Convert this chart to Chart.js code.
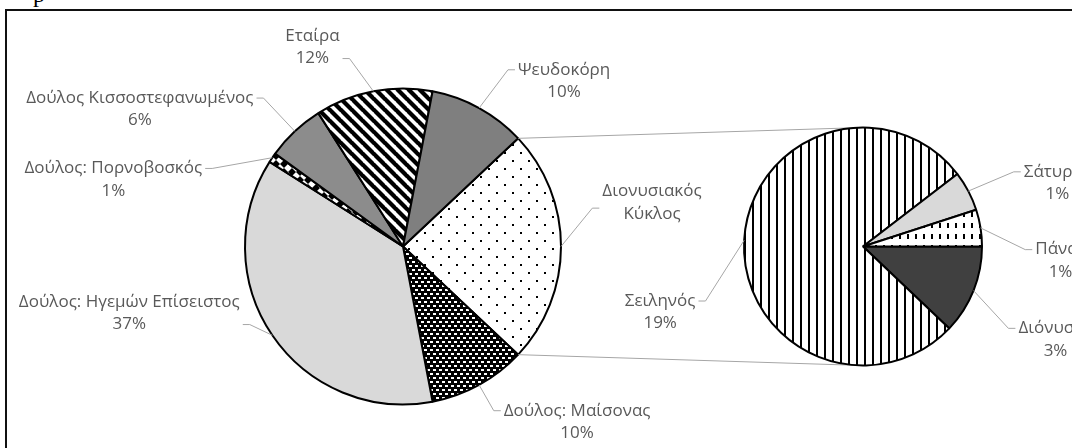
<!DOCTYPE html>
<html>
<head>
<meta charset="utf-8">
<script src="https://cdn.jsdelivr.net/npm/chart.js@4.4.1/dist/chart.umd.min.js"></script>
<style>
  html, body { margin: 0; padding: 0; background: #fff; overflow: hidden; }
  body { width: 1072px; height: 448px; position: relative; }
  #frame { position: absolute; left: 5px; top: 9px; width: 1120px; height: 480px;
           border-left: 2px solid #111; border-top: 2px solid #111; }
  #cut { position: absolute; left: 33px; top: -19px; font: 24px "Liberation Serif"; color: #000; }
  canvas { position: absolute; left: 0; top: 0; }
</style>
</head>
<body>
<div id="cut">p</div>
<div id="frame"></div>
<canvas id="mainPie" width="1072" height="448"></canvas>
<canvas id="subPie" width="1072" height="448"></canvas>
<script>
// pie-of-pie: main pie + the "Διονυσιακός Κύκλος" split into a second pie

const groupLabel = ["Διονυσιακός", "Κύκλος"];
const mainLabels = ["Δούλος: Μαίσονας", "Δούλος: Ηγεμών Επίσειστος", "Δούλος: Πορνοβοσκός",
                    "Δούλος Κισσοστεφανωμένος", "Εταίρα", "Ψευδοκόρη"];
const mainValues = [10, 37, 1, 6, 12, 10];

const subLabels = ["Διόνυσος", "Σειληνός", "Σάτυρος", "Πάνας"];
const subValues = [2.9, 18.6, 1.3, 1.2];

const FONT = '17px "Open Sans", "DejaVu Sans", sans-serif';
const TEXT = "#595959";
const LEADER = "#a6a6a6";
const LINE_H = 22.5;

// label block offsets from the slice's outer-edge midpoint: [dx, dy, attachLine]
const mainLayout = [
  [91, -44, 0.75],
  [98, 37, 0],
  [-143, -22, 1],
  [-159, 22, 0],
  [-155, -22, 0],
  [-61, -44, 1],
  [85, -27, 0]
];
const subLayout = [
  [82, 49, 0],
  [-84, 72, 0],
  [89, -8, 0],
  [80, 33, 0]
];

// ---- fill patterns ----
function tile(w, h, draw) {
  const c = document.createElement("canvas");
  c.width = w; c.height = h;
  const g = c.getContext("2d");
  g.fillStyle = "#fff";
  g.fillRect(0, 0, w, h);
  draw(g);
  return g.createPattern(c, "repeat");
}

const ctx0 = document.getElementById("mainPie").getContext("2d");

const patDots = tile(16, 16, g => {
  g.fillStyle = "#000";
  g.fillRect(0, 0, 2, 2);
  g.fillRect(8, 8, 2, 2);
});
const patBricks = tile(6, 8, g => {
  g.fillStyle = "#000";
  g.fillRect(0, 0, 6, 8);
  g.fillStyle = "#fff";
  g.fillRect(1, 1, 3, 2);
  g.fillRect(4, 5, 3, 2);
  g.fillRect(-2, 5, 3, 2);
});
const patDiamond = tile(8, 8, g => {
  g.fillStyle = "#000";
  g.beginPath();
  g.moveTo(4, 0); g.lineTo(8, 4); g.lineTo(4, 8); g.lineTo(0, 4);
  g.closePath();
  g.fill();
});
const patDiag = tile(11, 11, g => {
  g.strokeStyle = "#000";
  g.lineWidth = 4.2;
  for (const c of [-11, 0, 11]) {
    g.beginPath();
    g.moveTo(-1, c - 1);
    g.lineTo(12, c + 12);
    g.stroke();
  }
});
const patVert = tile(8, 4, g => {
  g.fillStyle = "#000";
  g.fillRect(0, 0, 2, 4);
});
const patDash = tile(8, 11, g => {
  g.fillStyle = "#000";
  g.fillRect(3, 3, 2, 5);
});

const mainFills = [patDots, patBricks, "#d9d9d9", patDiamond, "#8c8c8c", patDiag, "#7f7f7f"];
const subFills = ["#404040", patVert, "#d9d9d9", patDash];

// ---- totals ----
const subTotal = subValues.reduce((a, b) => a + b, 0);
const mainData = [subTotal, ...mainValues];
const grandTotal = mainData.reduce((a, b) => a + b, 0);
const groupDeg = 360 * subTotal / grandTotal;

// ---- label drawing ----
function drawLabels(chart, texts, layout) {
  const ctx = chart.ctx;
  const arcs = chart.getDatasetMeta(0).data;
  ctx.save();
  ctx.font = FONT;
  ctx.textAlign = "center";
  ctx.textBaseline = "middle";
  arcs.forEach((arc, i) => {
    const p = arc.getProps(["x", "y", "startAngle", "endAngle", "outerRadius"], true);
    const mid = (p.startAngle + p.endAngle) / 2;
    const ex = p.x + Math.cos(mid) * p.outerRadius;
    const ey = p.y + Math.sin(mid) * p.outerRadius;
    const [dx, dy, line] = layout[i];
    const lines = texts[i];
    const cx = ex + dx, cy = ey + dy;
    const w = Math.max(...lines.map(t => ctx.measureText(t).width));
    const top = cy - lines.length * LINE_H / 2;

    // leader line
    const ay = top + LINE_H * (line + 0.5);
    const toRight = ex > cx;
    const ax = toRight ? cx + w / 2 + 3 : cx - w / 2 - 3;
    const bx = toRight ? ax + 7 : ax - 7;
    ctx.strokeStyle = LEADER;
    ctx.lineWidth = 1;
    ctx.beginPath();
    ctx.moveTo(ax, ay);
    ctx.lineTo(bx, ay);
    ctx.lineTo(ex, ey);
    ctx.stroke();

    ctx.fillStyle = TEXT;
    lines.forEach((t, k) => ctx.fillText(t, cx, top + LINE_H * (k + 0.5)));
  });
  ctx.restore();
}

const pct = v => Math.round(v / grandTotal * 100) + "%";
const mainTexts = [groupLabel, ...mainLabels.map((l, i) => [l, pct(mainValues[i])])];
const subTexts = subLabels.map((l, i) => [l, pct(subValues[i])]);

const baseOptions = {
  responsive: false,
  devicePixelRatio: 1,
  animation: false,
  events: [],
  plugins: { legend: { display: false }, tooltip: { enabled: false } }
};

const mainChart = new Chart(ctx0, {
  type: "pie",
  data: {
    labels: [groupLabel.join(" "), ...mainLabels],
    datasets: [{
      data: mainData,
      backgroundColor: mainFills,
      borderColor: "#000",
      borderWidth: 2,
      hoverOffset: 0,
      offset: 0
    }]
  },
  options: {
    ...baseOptions,
    rotation: 90 - groupDeg / 2,
    layout: { padding: { left: 244, top: 87, right: 510, bottom: 42 } }
  },
  plugins: [{
    id: "mainLabels",
    afterDatasetsDraw: c => drawLabels(c, mainTexts, mainLayout)
  }]
});

// connector lines from the group slice edges to the top/bottom of the second pie
const connectors = {
  id: "connectors",
  beforeDatasetsDraw(chart) {
    const g = mainChart.getDatasetMeta(0).data[0]
      .getProps(["x", "y", "startAngle", "endAngle", "outerRadius"], true);
    const s = chart.getDatasetMeta(0).data[0].getProps(["x", "y", "outerRadius"], true);
    const ctx = chart.ctx;
    ctx.save();
    ctx.strokeStyle = LEADER;
    ctx.lineWidth = 1;
    ctx.beginPath();
    ctx.moveTo(g.x + Math.cos(g.startAngle) * g.outerRadius, g.y + Math.sin(g.startAngle) * g.outerRadius);
    ctx.lineTo(s.x, s.y - s.outerRadius);
    ctx.moveTo(g.x + Math.cos(g.endAngle) * g.outerRadius, g.y + Math.sin(g.endAngle) * g.outerRadius);
    ctx.lineTo(s.x, s.y + s.outerRadius);
    ctx.stroke();
    ctx.restore();
  }
};

new Chart(document.getElementById("subPie"), {
  type: "pie",
  data: {
    labels: subLabels,
    datasets: [{
      data: subValues,
      backgroundColor: subFills,
      borderColor: "#000",
      borderWidth: 2,
      hoverOffset: 0,
      offset: 0
    }]
  },
  options: {
    ...baseOptions,
    rotation: 90,
    layout: { padding: { left: 743, top: 126, right: 89, bottom: 81 } }
  },
  plugins: [connectors, {
    id: "subLabels",
    afterDatasetsDraw: c => drawLabels(c, subTexts, subLayout)
  }]
});
</script>
</body>
</html>
